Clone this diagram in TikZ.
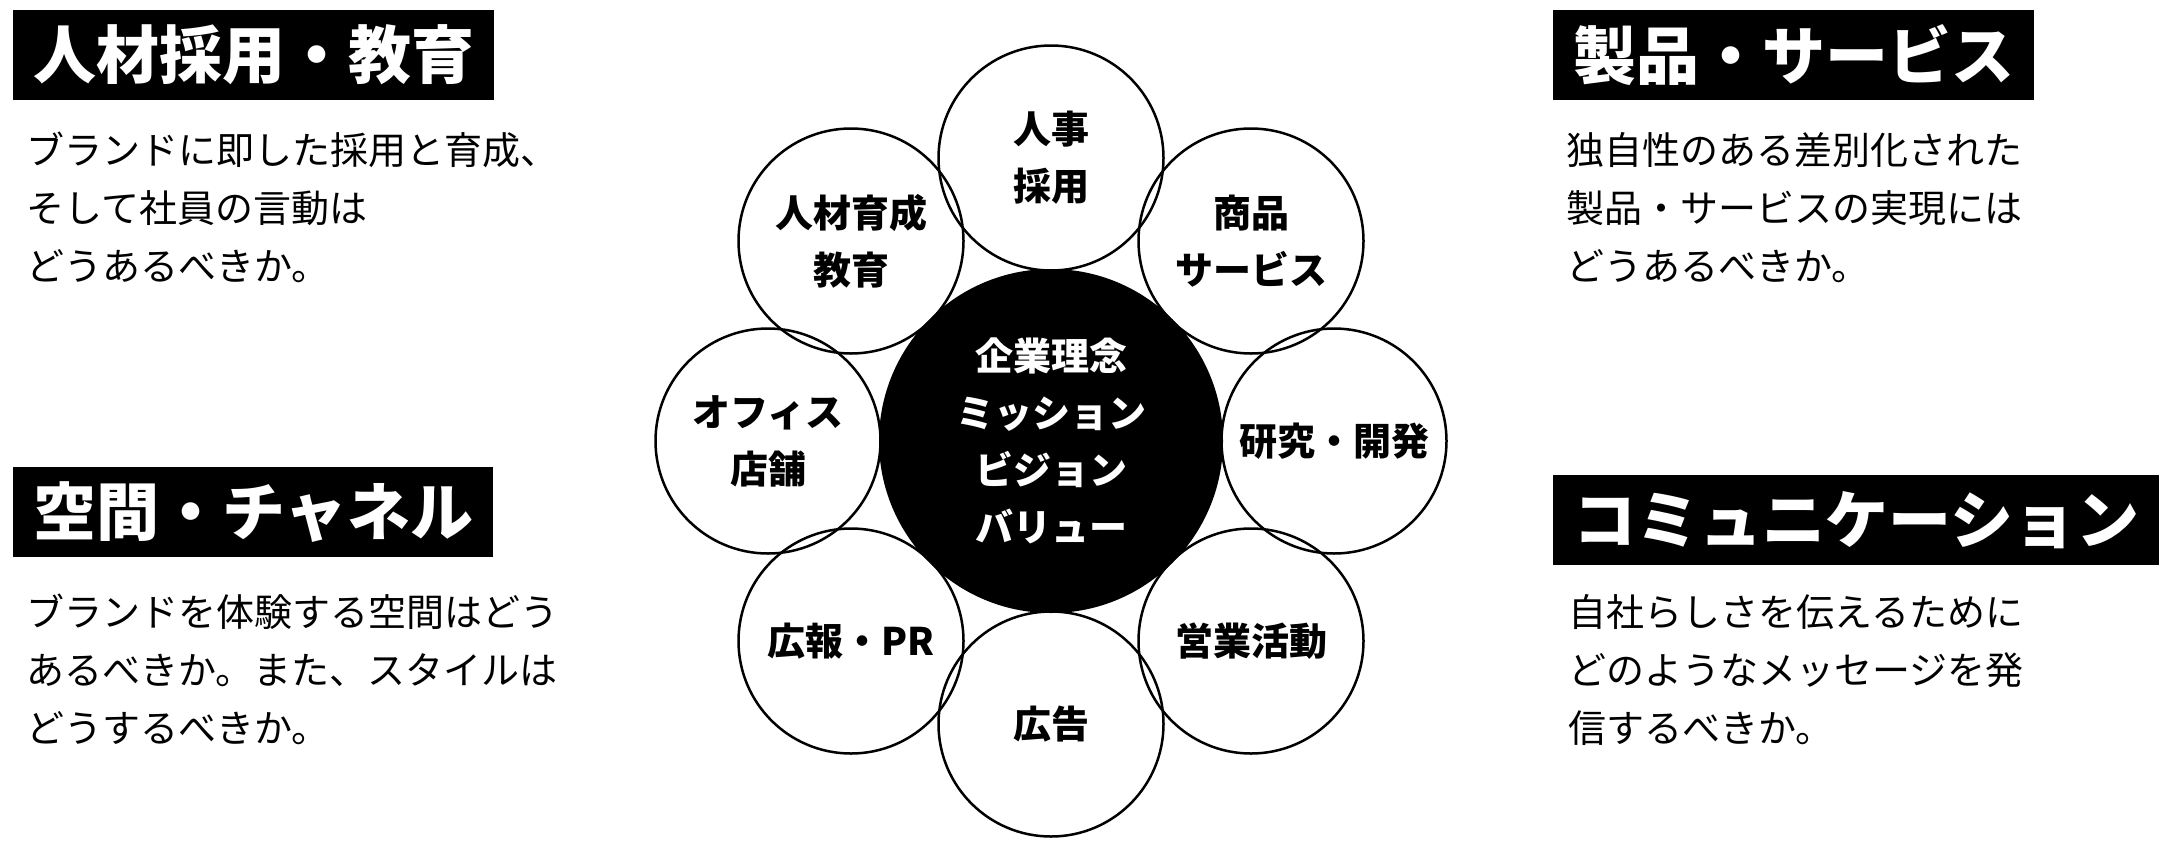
\documentclass[tikz,border=0pt]{standalone}
\usepackage{fontspec}
\setmainfont{Noto Sans CJK JP}
\begin{document}
\begin{tikzpicture}[x=1pt,y=-1pt,
  titlebox/.style={fill=black, text=white, font=\bfseries\fontsize{63pt}{63pt}\selectfont, minimum height=90pt, inner sep=0pt, anchor=north west},
  bodyline/.style={font=\fontsize{38pt}{57pt}\selectfont, anchor=base west, inner sep=0pt},
  sat/.style={circle, draw=black, line width=2.5pt, minimum size=225pt, inner sep=0pt, align=center, font=\bfseries\fontsize{38pt}{57pt}\selectfont},
  core/.style={circle, fill=black, minimum size=344pt, inner sep=0pt, align=center, text=white, font=\bfseries\fontsize{38pt}{57pt}\selectfont}]
\path[use as bounding box, fill=white] (0,0) rectangle (2170,844);

% titles
\node[titlebox, minimum width=481pt] (t1) at (13,10) {人材採用・教育};
\node[titlebox, minimum width=480pt] (t2) at (13,467) {空間・チャネル};
\node[titlebox, minimum width=481pt] (t3) at (1553,10) {製品・サービス};
\node[titlebox, minimum width=606pt] (t4) at (1553,475) {コミュニケーション};

% body texts
\node[bodyline] (b1a) at (26,164) {ブランドに即した採用と育成、};
\node[bodyline] (b1b) at (26,222) {そして社員の言動は};
\node[bodyline] (b1c) at (26,280) {どうあるべきか。};
\node[bodyline] (b2a) at (26,626) {ブランドを体験する空間はどう};
\node[bodyline] (b2b) at (26,684) {あるべきか。また、スタイルは};
\node[bodyline] (b2c) at (26,742) {どうするべきか。};
\node[bodyline] (b3a) at (1566,164) {独自性のある差別化された};
\node[bodyline] (b3b) at (1566,222) {製品・サービスの実現には};
\node[bodyline] (b3c) at (1566,280) {どうあるべきか。};
\node[bodyline] (b4a) at (1568,626) {自社らしさを伝えるために};
\node[bodyline] (b4b) at (1568,684) {どのようなメッセージを発};
\node[bodyline] (b4c) at (1568,742) {信するべきか。};

% center
\node[core] (core) at (1051,441) {企業理念\\ミッション\\ビジョン\\バリュー};

% satellites
\node[sat] (s1) at (1051,158) {人事\\採用};
\node[sat] (s2) at (1251,241) {商品\\サービス};
\node[sat] (s3) at (1334,441) {研究・開発};
\node[sat] (s4) at (1251,641) {営業活動};
\node[sat] (s5) at (1051,724) {広告};
\node[sat] (s6) at (851,641) {広報・PR};
\node[sat] (s7) at (768,441) {オフィス\\店舗};
\node[sat] (s8) at (851,241) {人材育成\\教育};
\end{tikzpicture}
\end{document}
